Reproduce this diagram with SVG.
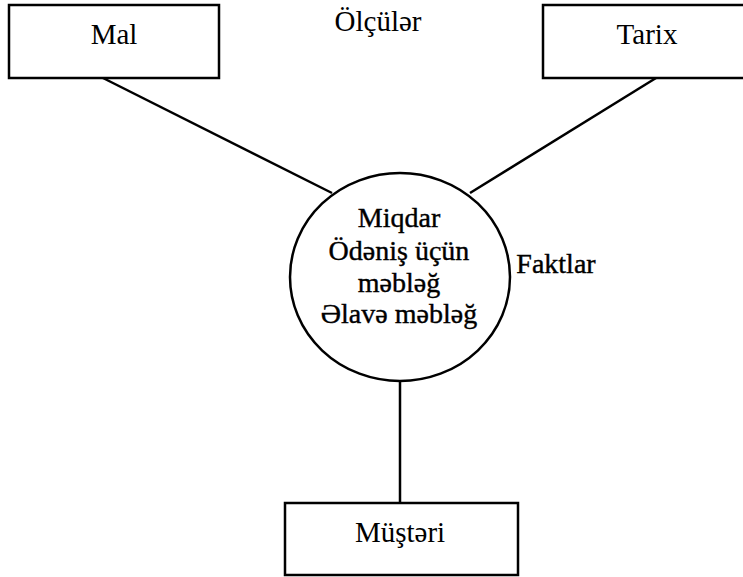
<svg xmlns="http://www.w3.org/2000/svg" width="743" height="577" viewBox="0 0 743 577">
<style>
.box{fill:#fff;stroke:#000;stroke-width:2.5}
.conn{stroke:#000;stroke-width:2.5;fill:none}
.t{font-family:"Liberation Serif","Times New Roman",serif;font-size:29px;fill:#000;text-anchor:middle}
.c{font-family:"Liberation Serif","Times New Roman",serif;font-size:28px;fill:#000;stroke:#000;stroke-width:0.4;text-anchor:middle}
</style>
<rect width="743" height="577" fill="#fff"/>
<g id="connectors">
<line class="conn" x1="103" y1="78" x2="332" y2="193"/>
<line class="conn" x1="656" y1="78" x2="470" y2="193"/>
<line class="conn" x1="400" y1="381" x2="400" y2="503"/>
</g>
<g id="mal">
<rect class="box" x="9" y="5" width="210" height="73"/>
<text class="t" x="114" y="44">Mal</text>
</g>
<g id="tarix">
<rect class="box" x="543" y="5" width="204" height="73"/>
<text class="t" x="647" y="44">Tarix</text>
</g>
<g id="olculer">
<text class="t" x="378" y="31">Ölçülər</text>
</g>
<g id="facts">
<ellipse class="box" cx="400" cy="277" rx="110" ry="104"/>
<text class="c" x="399" y="227">Miqdar</text>
<text class="c" x="399" y="260">Ödəniş üçün</text>
<text class="c" x="399" y="292">məbləğ</text>
<text class="c" x="399" y="323">Əlavə məbləğ</text>
</g>
<g id="faktlar">
<text class="c" x="556" y="273">Faktlar</text>
</g>
<g id="musteri">
<rect class="box" x="285" y="503" width="233" height="72"/>
<text class="t" x="400" y="542">Müştəri</text>
</g>
</svg>
